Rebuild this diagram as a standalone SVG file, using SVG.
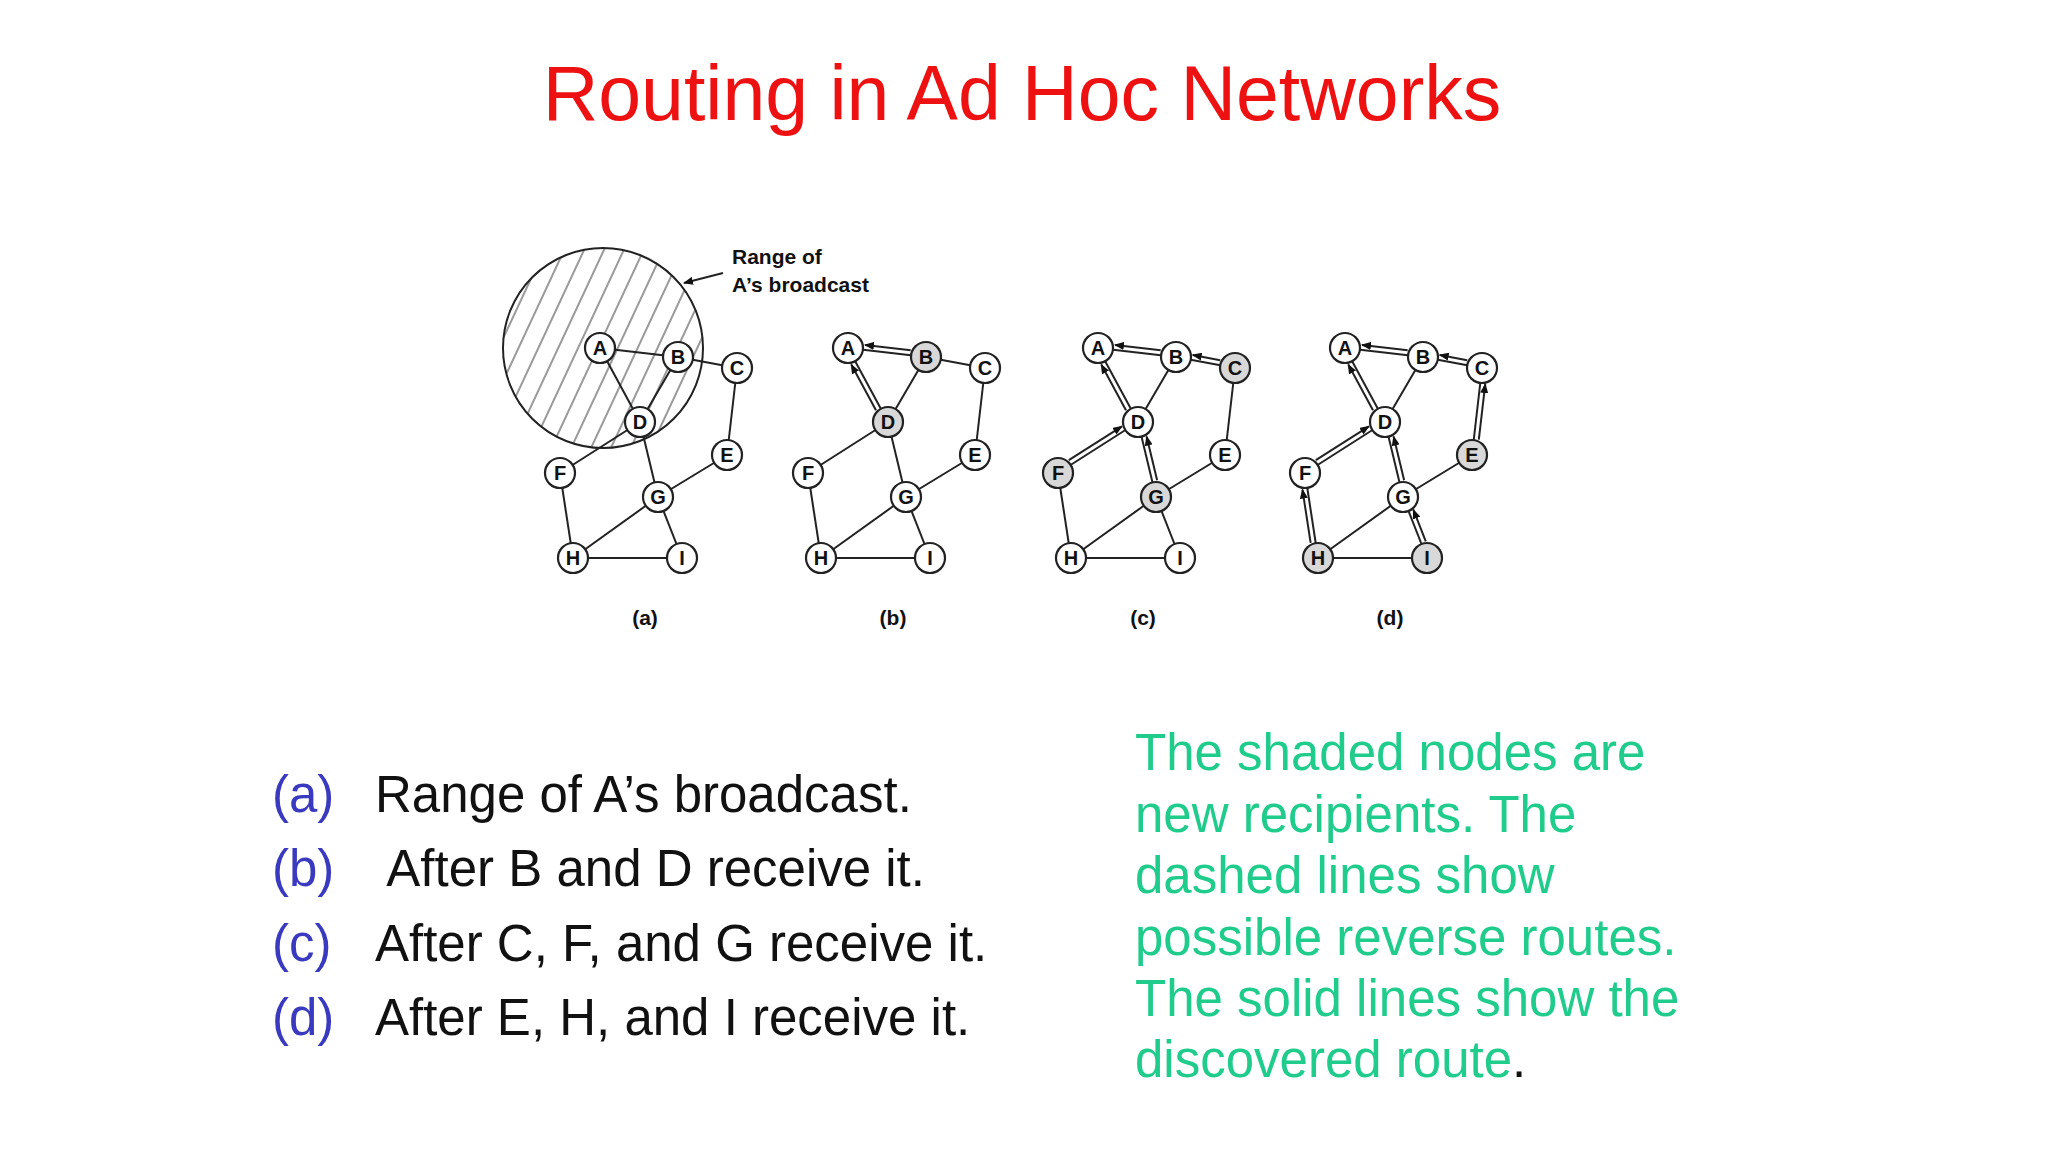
<svg xmlns="http://www.w3.org/2000/svg" width="2048" height="1152" viewBox="0 0 2048 1152">
<style>
.e{stroke:#222;stroke-width:2;fill:none}
.r{stroke:#222;stroke-width:2;fill:none;marker-end:url(#ah)}
.n circle{stroke:#222;stroke-width:2.2;fill:#fff}
.n.s circle{fill:#d8d8d8}
.n text{font-family:"Liberation Sans",Arial,sans-serif;font-weight:bold;font-size:20px;text-anchor:middle;fill:#111}
.cap{font-family:"Liberation Sans",Arial,sans-serif;font-weight:bold;font-size:21px;text-anchor:middle;fill:#111}
.blk{font-family:"Liberation Sans",Arial,sans-serif;font-size:51px;fill:#111}
.blu{fill:#3a3ac0}
.grn{font-family:"Liberation Sans",Arial,sans-serif;font-size:51px;fill:#1fcc8c}
</style>
<defs>
<marker id="ah" markerWidth="10" markerHeight="8" refX="9" refY="4" orient="auto" markerUnits="userSpaceOnUse"><path d="M0,0 L10,4 L0,8 Z" fill="#111"/></marker>
<pattern id="hatch" width="18" height="18" patternUnits="userSpaceOnUse" patternTransform="rotate(25)"><line x1="5" y1="0" x2="5" y2="18" stroke="#555" stroke-width="1.2"/></pattern>
<g id="edges">
<line class="e" x1="600" y1="348" x2="678" y2="357"/>
<line class="e" x1="600" y1="348" x2="640" y2="422"/>
<line class="e" x1="678" y1="357" x2="737" y2="368"/>
<line class="e" x1="678" y1="357" x2="640" y2="422"/>
<line class="e" x1="737" y1="368" x2="727" y2="455"/>
<line class="e" x1="640" y1="422" x2="560" y2="473"/>
<line class="e" x1="640" y1="422" x2="658" y2="497"/>
<line class="e" x1="727" y1="455" x2="658" y2="497"/>
<line class="e" x1="560" y1="473" x2="573" y2="558"/>
<line class="e" x1="658" y1="497" x2="573" y2="558"/>
<line class="e" x1="658" y1="497" x2="682" y2="558"/>
<line class="e" x1="573" y1="558" x2="682" y2="558"/>
</g>
</defs>
<text x="1022" y="120" font-family="'Liberation Sans',Arial,sans-serif" font-size="77" fill="#ee1111" text-anchor="middle">Routing in Ad Hoc Networks</text>

<g id="panel-a">
<circle cx="603" cy="348" r="100" fill="url(#hatch)" stroke="#222" stroke-width="2"/>
<g id="connectors-a"><use href="#edges"/>
<line class="r" x1="723" y1="273" x2="684" y2="283"/></g>
<text x="732" y="264" font-family="'Liberation Sans',Arial,sans-serif" font-weight="bold" font-size="21" fill="#111">Range of</text>
<text x="732" y="292" font-family="'Liberation Sans',Arial,sans-serif" font-weight="bold" font-size="21" fill="#111">A’s broadcast</text>
<g id="a-A" class="n"><circle cx="600" cy="348" r="15"/><text x="600" y="355">A</text></g>
<g id="a-B" class="n"><circle cx="678" cy="357" r="15"/><text x="678" y="364">B</text></g>
<g id="a-C" class="n"><circle cx="737" cy="368" r="15"/><text x="737" y="375">C</text></g>
<g id="a-D" class="n"><circle cx="640" cy="422" r="15"/><text x="640" y="429">D</text></g>
<g id="a-E" class="n"><circle cx="727" cy="455" r="15"/><text x="727" y="462">E</text></g>
<g id="a-F" class="n"><circle cx="560" cy="473" r="15"/><text x="560" y="480">F</text></g>
<g id="a-G" class="n"><circle cx="658" cy="497" r="15"/><text x="658" y="504">G</text></g>
<g id="a-H" class="n"><circle cx="573" cy="558" r="15"/><text x="573" y="565">H</text></g>
<g id="a-I" class="n"><circle cx="682" cy="558" r="15"/><text x="682" y="565">I</text></g>
<text class="cap" x="645" y="625">(a)</text>
</g>

<g id="panel-b" transform="translate(248,0)">
<g id="connectors-b"><use href="#edges"/>
<g transform="translate(678,357) rotate(186.6)"><line class="r" x1="16" y1="5" x2="62" y2="5"/></g>
<g transform="translate(640,422) rotate(241.6)"><line class="r" x1="16" y1="-5" x2="68" y2="-5"/></g>
</g>
<g id="b-A" class="n"><circle cx="600" cy="348" r="15"/><text x="600" y="355">A</text></g>
<g id="b-B" class="n s"><circle cx="678" cy="357" r="15"/><text x="678" y="364">B</text></g>
<g id="b-C" class="n"><circle cx="737" cy="368" r="15"/><text x="737" y="375">C</text></g>
<g id="b-D" class="n s"><circle cx="640" cy="422" r="15"/><text x="640" y="429">D</text></g>
<g id="b-E" class="n"><circle cx="727" cy="455" r="15"/><text x="727" y="462">E</text></g>
<g id="b-F" class="n"><circle cx="560" cy="473" r="15"/><text x="560" y="480">F</text></g>
<g id="b-G" class="n"><circle cx="658" cy="497" r="15"/><text x="658" y="504">G</text></g>
<g id="b-H" class="n"><circle cx="573" cy="558" r="15"/><text x="573" y="565">H</text></g>
<g id="b-I" class="n"><circle cx="682" cy="558" r="15"/><text x="682" y="565">I</text></g>
<text class="cap" x="645" y="625">(b)</text>
</g>

<g id="panel-c" transform="translate(498,0)">
<g id="connectors-c"><use href="#edges"/>
<g transform="translate(678,357) rotate(186.6)"><line class="r" x1="16" y1="5" x2="62" y2="5"/></g>
<g transform="translate(640,422) rotate(241.6)"><line class="r" x1="16" y1="-5" x2="68" y2="-5"/></g>
<g transform="translate(737,368) rotate(190.6)"><line class="r" x1="16" y1="5" x2="44" y2="5"/></g>
<g transform="translate(560,473) rotate(-32.5)"><line class="r" x1="16" y1="-5" x2="79" y2="-5"/></g>
<g transform="translate(658,497) rotate(256.5)"><line class="r" x1="16" y1="5" x2="61" y2="5"/></g>
</g>
<g id="c-A" class="n"><circle cx="600" cy="348" r="15"/><text x="600" y="355">A</text></g>
<g id="c-B" class="n"><circle cx="678" cy="357" r="15"/><text x="678" y="364">B</text></g>
<g id="c-C" class="n s"><circle cx="737" cy="368" r="15"/><text x="737" y="375">C</text></g>
<g id="c-D" class="n"><circle cx="640" cy="422" r="15"/><text x="640" y="429">D</text></g>
<g id="c-E" class="n"><circle cx="727" cy="455" r="15"/><text x="727" y="462">E</text></g>
<g id="c-F" class="n s"><circle cx="560" cy="473" r="15"/><text x="560" y="480">F</text></g>
<g id="c-G" class="n s"><circle cx="658" cy="497" r="15"/><text x="658" y="504">G</text></g>
<g id="c-H" class="n"><circle cx="573" cy="558" r="15"/><text x="573" y="565">H</text></g>
<g id="c-I" class="n"><circle cx="682" cy="558" r="15"/><text x="682" y="565">I</text></g>
<text class="cap" x="645" y="625">(c)</text>
</g>

<g id="panel-d" transform="translate(745,0)">
<g id="connectors-d"><use href="#edges"/>
<g transform="translate(678,357) rotate(186.6)"><line class="r" x1="16" y1="5" x2="62" y2="5"/></g>
<g transform="translate(640,422) rotate(241.6)"><line class="r" x1="16" y1="-5" x2="68" y2="-5"/></g>
<g transform="translate(737,368) rotate(190.6)"><line class="r" x1="16" y1="5" x2="44" y2="5"/></g>
<g transform="translate(560,473) rotate(-32.5)"><line class="r" x1="16" y1="-5" x2="79" y2="-5"/></g>
<g transform="translate(658,497) rotate(256.5)"><line class="r" x1="16" y1="5" x2="61" y2="5"/></g>
<g transform="translate(727,455) rotate(-83.4)"><line class="r" x1="16" y1="5" x2="72" y2="5"/></g>
<g transform="translate(573,558) rotate(261.3)"><line class="r" x1="16" y1="-5" x2="70" y2="-5"/></g>
<g transform="translate(682,558) rotate(248.5)"><line class="r" x1="16" y1="5" x2="50" y2="5"/></g>
</g>
<g id="d-A" class="n"><circle cx="600" cy="348" r="15"/><text x="600" y="355">A</text></g>
<g id="d-B" class="n"><circle cx="678" cy="357" r="15"/><text x="678" y="364">B</text></g>
<g id="d-C" class="n"><circle cx="737" cy="368" r="15"/><text x="737" y="375">C</text></g>
<g id="d-D" class="n"><circle cx="640" cy="422" r="15"/><text x="640" y="429">D</text></g>
<g id="d-E" class="n s"><circle cx="727" cy="455" r="15"/><text x="727" y="462">E</text></g>
<g id="d-F" class="n"><circle cx="560" cy="473" r="15"/><text x="560" y="480">F</text></g>
<g id="d-G" class="n"><circle cx="658" cy="497" r="15"/><text x="658" y="504">G</text></g>
<g id="d-H" class="n s"><circle cx="573" cy="558" r="15"/><text x="573" y="565">H</text></g>
<g id="d-I" class="n s"><circle cx="682" cy="558" r="15"/><text x="682" y="565">I</text></g>
<text class="cap" x="645" y="625">(d)</text>
</g>

<g id="legend">
<text class="blk" y="812"><tspan class="blu" x="272">(a)</tspan><tspan x="375">Range of A’s broadcast.</tspan></text>
<text class="blk" y="886"><tspan class="blu" x="272">(b)</tspan><tspan x="375"> After B and D receive it.</tspan></text>
<text class="blk" y="961"><tspan class="blu" x="272">(c)</tspan><tspan x="375">After C, F, and G receive it.</tspan></text>
<text class="blk" y="1035"><tspan class="blu" x="272">(d)</tspan><tspan x="375">After E, H, and I receive it.</tspan></text>
</g>
<g id="note" class="grn">
<text x="1135" y="770">The shaded nodes are</text>
<text x="1135" y="832">new recipients. The</text>
<text x="1135" y="893">dashed lines show</text>
<text x="1135" y="955">possible reverse routes.</text>
<text x="1135" y="1016">The solid lines show the</text>
<text x="1135" y="1077">discovered route<tspan fill="#111">.</tspan></text>
</g>
</svg>
